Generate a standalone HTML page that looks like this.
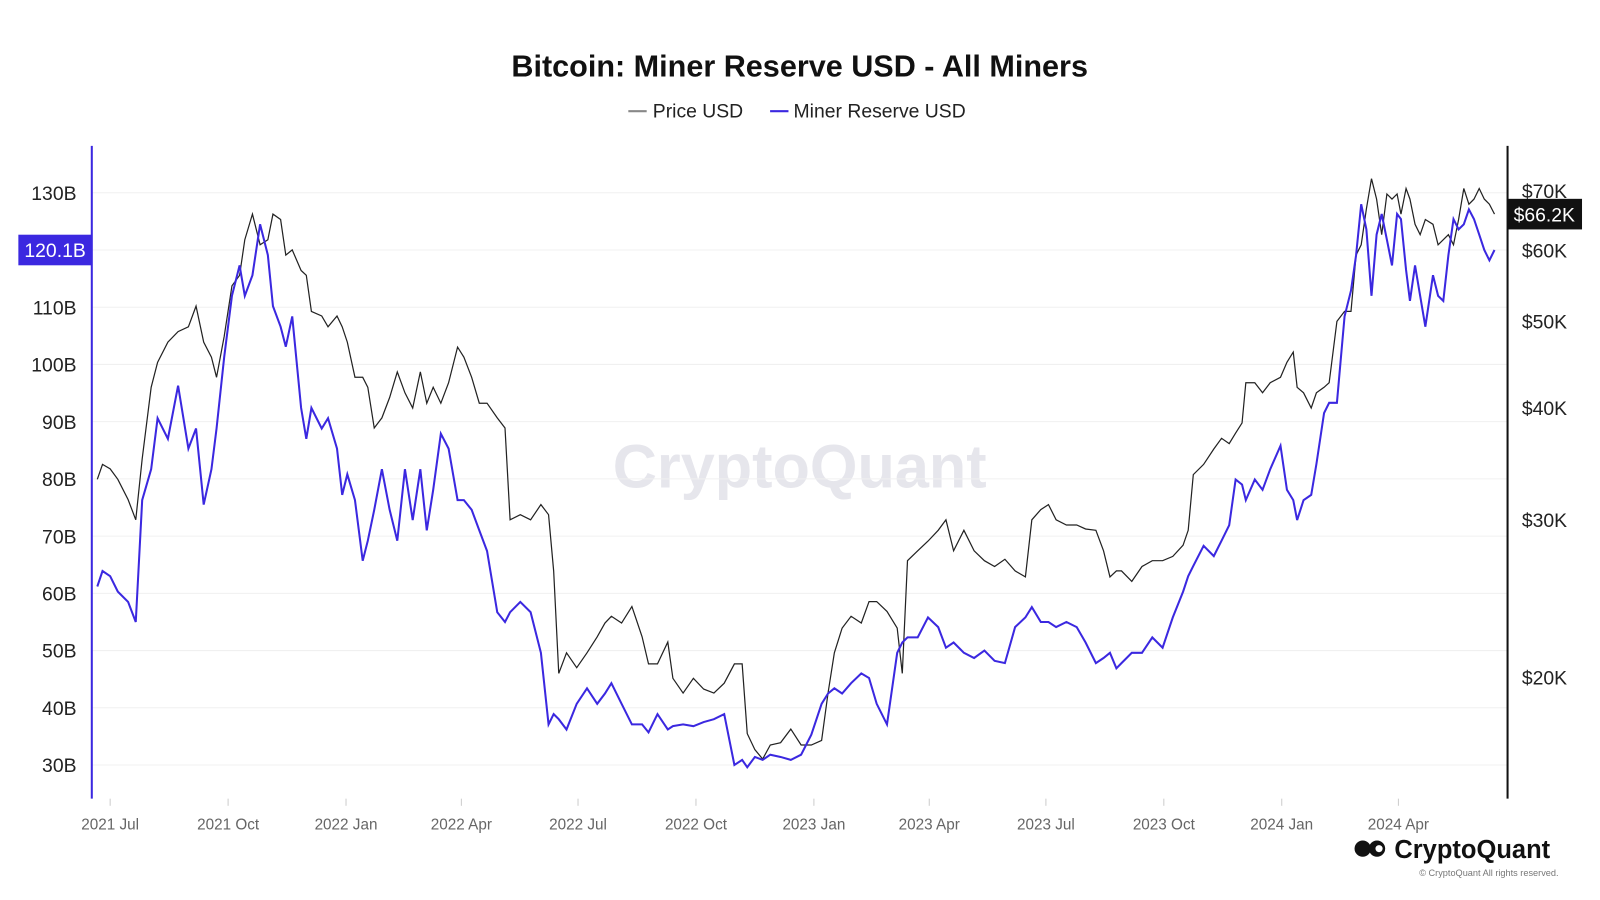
<!DOCTYPE html>
<html><head><meta charset="utf-8"><style>
body{margin:0;background:#fff;font-family:"Liberation Sans",sans-serif}
svg{display:block}
</style></head><body>
<svg id="chart" width="1600" height="900" viewBox="0 0 1600 900">
<g transform="scale(1.02)">
<text x="784" y="75" text-anchor="middle" font-size="30" font-weight="bold" fill="#111">Bitcoin: Miner Reserve USD - All Miners</text>
<g>
<g><line x1="616" y1="109" x2="634" y2="109" stroke="#888" stroke-width="2"/><text x="640" y="115" font-size="19" fill="#222">Price USD</text></g>
<g><line x1="755" y1="109" x2="773" y2="109" stroke="#3b28e0" stroke-width="2"/><text x="778" y="115" font-size="19" fill="#222">Miner Reserve USD</text></g>
</g>
<text x="784" y="478" text-anchor="middle" font-size="60" font-weight="bold" fill="#e6e6ec">CryptoQuant</text>
<g id="grid"></g><g id="series"></g><g id="axes"></g>
<g>
<circle cx="1336" cy="832" r="8" fill="#111"/><circle cx="1350" cy="832" r="8" fill="#111"/><circle cx="1352" cy="832" r="3.5" fill="#fff"/>
<text x="1367" y="841" font-size="25" font-weight="bold" fill="#111">CryptoQuant</text>
<text x="1528" y="859" text-anchor="end" font-size="9" fill="#777">© CryptoQuant All rights reserved.</text>
</g>
</g>
</svg>
<script>
const days=[-10,-6,0,6,14,20,25,32,37,45,53,61,67,73,79,83,89,95,101,105,111,117,123,127,133,137,142,149,153,157,165,170,177,181,185,191,197,201,206,212,218,224,230,236,242,247,252,258,264,271,276,282,288,294,302,308,312,320,328,336,342,346,350,356,364,372,380,386,391,399,407,415,420,427,435,439,447,455,463,471,479,487,493,497,503,509,515,523,531,539,547,555,560,565,571,578,586,592,598,606,614,618,622,630,638,646,652,658,666,674,682,690,698,706,714,719,726,732,738,746,754,761,769,775,780,785,789,797,805,813,821,829,837,841,845,853,861,867,873,878,883,886,893,899,905,913,918,923,926,931,937,941,947,951,957,963,968,972,976,980,984,988,992,996,1000,1004,1007,1011,1014,1018,1022,1026,1032,1036,1040,1044,1048,1052,1056,1060,1064,1068,1072,1076,1080,1084,1085];
const reserveB=[61.2,63.9,63.0,60.3,58.5,55.0,76.3,81.7,90.6,87.0,96.3,85.3,88.8,75.5,81.7,88.8,101.3,112.0,117.3,112.0,115.6,124.5,119.1,110.2,106.6,103.1,108.4,92.4,87.0,92.4,88.8,90.6,85.3,77.2,80.8,76.3,65.7,69.2,74.6,81.7,74.6,69.2,81.7,72.8,81.7,71.0,78.1,87.9,85.3,76.3,76.3,74.6,71.0,67.4,56.7,55.0,56.7,58.5,56.7,49.6,37.1,38.9,38.0,36.2,40.7,43.4,40.7,42.5,44.3,40.7,37.1,37.1,35.7,38.9,36.2,36.8,37.1,36.8,37.5,38.0,38.9,30.0,30.9,29.6,31.4,30.9,31.8,31.4,30.9,31.8,35.3,40.7,42.5,43.4,42.5,44.3,46.0,45.2,40.7,37.1,49.6,51.4,52.3,52.3,55.8,54.1,50.5,51.4,49.6,48.7,50.0,48.2,47.8,54.1,55.8,57.6,55.0,55.0,54.1,55.0,54.1,51.4,47.8,48.7,49.6,46.9,47.8,49.6,49.6,52.3,50.5,55.8,60.3,63.0,64.8,68.3,66.5,69.2,71.9,79.9,79.0,76.3,79.9,78.1,81.7,85.8,78.1,76.3,72.8,76.3,77.2,82.6,91.5,93.3,93.3,108.4,112.9,119.1,128.0,123.6,112.0,122.7,126.3,121.8,117.3,126.3,125.4,116.5,111.1,117.3,112.0,106.6,115.6,112.0,111.1,119.1,125.4,123.6,124.5,127.1,125.4,122.7,120.0,118.2,120.0];
const priceK=[33.3,34.6,34.2,33.3,31.6,30.0,35.1,42.2,45.0,47.4,48.7,49.3,52.0,47.4,45.6,43.3,48.1,54.8,56.3,61.7,65.9,60.9,61.7,65.9,65.0,59.3,60.1,57.0,56.3,51.3,50.7,49.3,50.7,49.3,47.4,43.3,43.3,42.2,38.0,39.0,41.1,43.9,41.6,40.0,43.9,40.5,42.2,40.5,42.7,46.8,45.6,43.3,40.5,40.5,39.0,38.0,30.0,30.4,30.0,31.2,30.4,26.3,20.2,21.3,20.5,21.3,22.2,23.0,23.4,23.0,24.0,22.2,20.7,20.7,21.9,19.95,19.2,19.95,19.4,19.2,19.7,20.7,20.7,17.3,16.6,16.2,16.8,16.9,17.5,16.8,16.8,17.0,19.2,21.3,22.7,23.4,23.0,24.3,24.3,23.7,22.7,20.2,27.0,27.7,28.4,29.2,30.0,27.7,29.2,27.7,27.0,26.6,27.1,26.3,25.9,30.0,30.8,31.2,30.0,29.6,29.6,29.3,29.2,27.7,25.9,26.3,26.3,25.6,26.6,27.0,27.0,27.3,28.1,29.2,33.7,34.6,36.0,37.0,36.5,37.5,38.5,42.7,42.7,41.6,42.7,43.3,45.0,46.2,42.2,41.6,40.0,41.6,42.2,42.7,50.0,51.3,51.3,59.3,60.9,66.8,72.2,68.5,62.5,69.4,68.5,69.4,65.9,70.4,68.5,64.2,62.5,65.0,64.2,60.9,61.7,62.5,60.9,65.0,70.4,67.6,68.5,70.4,68.5,67.6,65.9,66.2];
const leftTicks=[30,40,50,60,70,80,90,100,110,120,130];
const rightTicks=[20,30,40,50,60,70];
const xLabels=["2021 Jul","2021 Oct","2022 Jan","2022 Apr","2022 Jul","2022 Oct","2023 Jan","2023 Apr","2023 Jul","2023 Oct","2024 Jan","2024 Apr"];
const xLabelDays=[0,92,184,274,365,457,549,639,730,822,914,1005];
const lastReserve="120.1B", lastPrice="$66.2K";

const NS="http://www.w3.org/2000/svg";
const X=d=>108+d*1.2567;
const YL=v=>189+(130-v)*5.61;
const YR=v=>664-Math.log(v/20)*380.8;
function mk(tag,attrs,parent,text){const e=document.createElementNS(NS,tag);for(const k in attrs)e.setAttribute(k,attrs[k]);if(text!==undefined)e.textContent=text;parent.appendChild(e);return e;}
const grid=document.getElementById('grid'),series=document.getElementById('series'),axes=document.getElementById('axes');
leftTicks.forEach(v=>{
 const g=mk('line',{x1:90,x2:1478,y1:YL(v),y2:YL(v),stroke:'#f0f0f0','stroke-width':1},grid);
 
 
 const t=mk('text',{x:75,y:YL(v)+7,'text-anchor':'end','font-size':19,fill:'#222'},axes,v+'B');
 
 
});
rightTicks.forEach(v=>{
 const t=mk('text',{x:1492,y:YR(v)+7,'font-size':19,fill:'#222'},axes,'$'+v+'K');
 
 
});
xLabels.forEach((l,i)=>{
 const t=mk('text',{x:X(xLabelDays[i]),y:813,'text-anchor':'middle','font-size':15,fill:'#666'},axes,l);
 
 
 const k=mk('line',{x1:X(xLabelDays[i]),x2:X(xLabelDays[i]),y1:783,y2:790,stroke:'#ccc'},axes);
 
 
});
const n=Math.min(days.length,reserveB.length,priceK.length);
let pp='',pr='';
for(let i=0;i<n;i++){pp+=(i?'L':'M')+X(days[i]).toFixed(1)+','+YR(priceK[i]).toFixed(1);pr+=(i?'L':'M')+X(days[i]).toFixed(1)+','+YL(reserveB[i]).toFixed(1);}
const lp=mk('path',{d:pp,fill:'none',stroke:'#222','stroke-width':1.2},series);


const lr=mk('path',{d:pr,fill:'none',stroke:'#3b28e0','stroke-width':2},series);


const la=mk('line',{x1:90,x2:90,y1:143,y2:783,stroke:'#3b28e0','stroke-width':2},axes);


const ra=mk('line',{x1:1478,x2:1478,y1:143,y2:783,stroke:'#111','stroke-width':2},axes);


const yl=YL(reserveB[n-1]);
const bl=mk('rect',{x:18,y:yl-15,width:72,height:30,fill:'#3b28e0'},axes);


const tl=mk('text',{x:54,y:yl+7,'text-anchor':'middle','font-size':19,fill:'#fff'},axes,lastReserve);


const yr=YR(priceK[n-1]);
const br=mk('rect',{x:1478,y:yr-15,width:73,height:30,fill:'#111'},axes);


const tr=mk('text',{x:1514,y:yr+7,'text-anchor':'middle','font-size':19,fill:'#fff'},axes,lastPrice);


</script>
</body></html>
